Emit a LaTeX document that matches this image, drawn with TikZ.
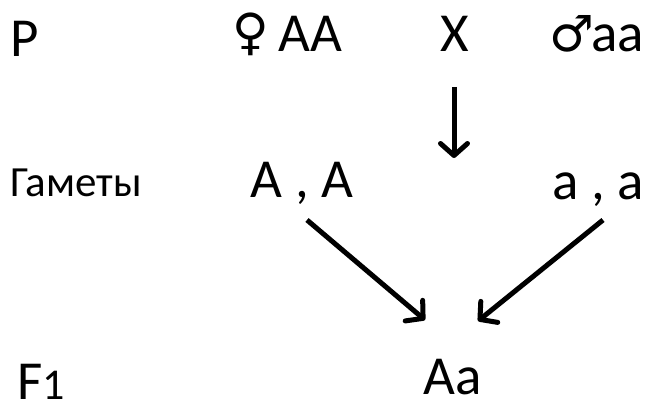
\documentclass[tikz,border=0pt]{standalone}
\usepackage{fontspec}
\setmainfont{Carlito}
\newfontfamily\symfont{DejaVu Sans}
\usetikzlibrary{arrows.meta, calc, positioning}

\tikzset{
	txt/.style={inner sep=0pt, font=\fontsize{55}{60}\selectfont},
	small/.style={inner sep=0pt, font=\fontsize{43}{46}\selectfont},
	sym/.style={inner sep=0pt, font=\symfont\fontsize{50}{55}\selectfont},
	arr/.style={line width=5pt, -{Straight Barb[length=12pt, width=27pt, round, line width=5pt]}}
}

\begin{document}
\begin{tikzpicture}[x=1pt, y=-1pt]
	\useasboundingbox (0,0) rectangle (646,403);
	\node[txt, anchor=base west] (p) at (10,57) {P};
	\node[sym, anchor=base west] (fem) at (232,50) {♀};
	\node[txt, anchor=base west] (femaa) at (278,52) {AA};
	\node[txt, anchor=base] (cross) at (455,52) {X};
	\node[sym, anchor=base west] (male) at (549,52) {♂};
	\node[txt, anchor=base west] (maleaa) at (591,52) {aa};
	\node[small, anchor=base west] (gam) at (10,197) {Гаметы};
	\node[txt, anchor=base] (gamf) at (302,198) {A , A};
	\node[txt, anchor=base] (gamm) at (598,200) {a , a};
	\node[txt, anchor=base west] (fone) at (17,400) {F{\fontsize{44}{46}\selectfont 1}};
	\node[txt, anchor=base] (aa) at (453,395) {Aa};
	\draw[arr] ($(cross.base)+(-1,35)$) -- ($(cross.base)+(-1,106)$);
	\draw[arr] ($(gamf.base)+(5,22)$) -- ($(aa.base)+(-28,-75)$);
	\draw[arr] ($(gamm.base)+(5,20)$) -- ($(aa.base)+(25,-74)$);
\end{tikzpicture}
\end{document}
